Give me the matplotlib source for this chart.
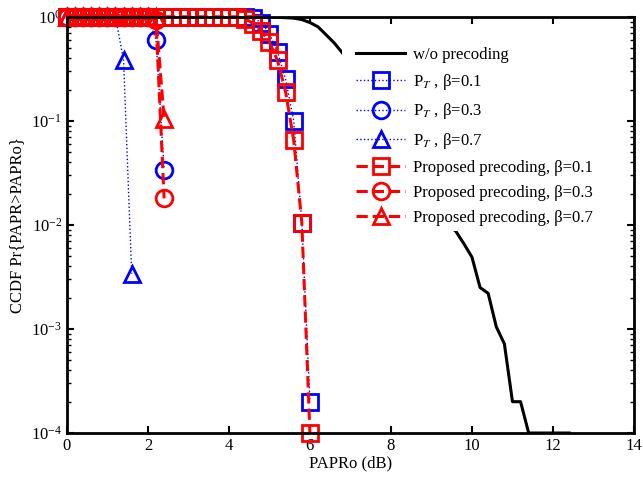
import matplotlib
matplotlib.use("Agg")
import matplotlib.pyplot as plt
from matplotlib.patches import Rectangle
from matplotlib.ticker import LogLocator, NullFormatter

plt.rcParams['font.family'] = ['Liberation Serif', 'DejaVu Serif']
plt.rcParams['mathtext.fontset'] = 'stix'

# PAPRo grid (dB)
papr_grid = [0.0, 0.2, 0.4, 0.6, 0.8, 1.0, 1.2, 1.4, 1.6, 1.8, 2.0, 2.2, 2.4,
             2.6, 2.8, 3.0, 3.2, 3.4, 3.6, 3.8, 4.0, 4.2, 4.4, 4.6, 4.8, 5.0,
             5.2, 5.4, 5.6, 5.8, 6.0]

# w/o precoding
x_wo = [0.0, 4.4, 4.8, 5.2, 5.6, 5.8, 6.0, 6.2, 6.4, 6.6, 6.8, 7.0, 7.2, 7.4,
        7.6, 7.8, 8.0, 8.2, 8.4, 8.6, 8.8, 9.0, 9.2, 9.4, 9.6, 9.8, 10.0, 10.2,
        10.4, 10.6, 10.8, 11.0, 11.2, 11.4, 11.6, 11.8, 12.0, 12.2, 12.4]
y_wo = [1.0, 1.0, 0.998, 0.99, 0.97, 0.94, 0.88, 0.8, 0.67, 0.56, 0.45, 0.35,
        0.26, 0.19, 0.13, 0.09, 0.065, 0.045, 0.033, 0.025, 0.019, 0.015,
        0.012, 0.010, 0.0087, 0.0066, 0.0049, 0.0025, 0.0022, 0.00105,
        0.00072, 0.0002, 0.0002, 0.0001, 0.0001, 0.0001, 0.0001, 0.0001, 0.0001]

# P_T (blue)
pt_01 = [1.0] * 23 + [0.97, 0.88, 0.69, 0.46, 0.25, 0.10, 0.0105, 0.0002]
pt_03 = [1.0] * 11 + [0.60, 0.034]
pt_07 = [1.0] * 7 + [0.38, 0.0034]

# Proposed precoding (red)
pp_01 = [1.0] * 22 + [0.96, 0.86, 0.73, 0.57, 0.38, 0.19, 0.065, 0.0105, 0.0001]
pp_03 = [1.0] * 11 + [0.93, 0.018]
pp_07 = [1.0] * 12 + [0.105]

fig = plt.figure(figsize=(6.43, 4.79), dpi=100)
ax = fig.add_axes([0.104, 0.096, 0.882, 0.869])

ax.semilogy(x_wo, y_wo, 'k-', lw=2.2, label='w/o precoding')

mk = dict(markersize=12, markeredgewidth=2, markerfacecolor='none', clip_on=False)
ax.semilogy(papr_grid[:len(pt_01)], pt_01, ':', color='b', marker='s', lw=1, label=r'P$_T$ , β=0.1', **mk)
ax.semilogy(papr_grid[:len(pt_03)], pt_03, ':', color='b', marker='o', lw=1, label=r'P$_T$ , β=0.3', **mk)
ax.semilogy(papr_grid[:len(pt_07)], pt_07, ':', color='b', marker='^', lw=1, label=r'P$_T$ , β=0.7', **mk)
ax.semilogy(papr_grid[:len(pp_01)], pp_01, '--', color='r', marker='s', lw=2.2, label='Proposed precoding, β=0.1', **mk)
ax.semilogy(papr_grid[:len(pp_03)], pp_03, '--', color='r', marker='o', lw=2.2, label='Proposed precoding, β=0.3', **mk)
ax.semilogy(papr_grid[:len(pp_07)], pp_07, '--', color='r', marker='^', lw=2.2, label='Proposed precoding, β=0.7', **mk)

ax.set_xlim(0, 14)
ax.set_ylim(1e-4, 1)
ax.set_xticks([0, 2, 4, 6, 8, 10, 12, 14])
ax.yaxis.set_major_locator(LogLocator(base=10, numticks=10))
ax.yaxis.set_minor_locator(LogLocator(base=10, subs=range(2, 10), numticks=10))
ax.yaxis.set_minor_formatter(NullFormatter())
ax.tick_params(which='both', direction='in', top=True, right=True, labelsize=12)
ax.tick_params(which='major', length=5, width=1.5)
ax.tick_params(which='minor', length=3, width=1)
for s in ax.spines.values():
    s.set_linewidth(2)

ax.set_xlabel('PAPRo (dB)', fontsize=12, labelpad=1)
ax.set_ylabel('CCDF Pr{PAPR>PAPRo}', fontsize=12, labelpad=4)

# white legend area
ax.add_patch(Rectangle((0.485, 0.486), 0.49, 0.47, transform=ax.transAxes,
                       facecolor='white', edgecolor='none', zorder=3))

leg = ax.legend(loc='upper left', bbox_to_anchor=(0.49, 0.955), fontsize=12,
                handlelength=2.9, labelspacing=0.55, frameon=False,
                borderpad=0.2, handletextpad=0.5, numpoints=1)
leg.set_zorder(4)

fig.savefig('out.png', dpi=100)
